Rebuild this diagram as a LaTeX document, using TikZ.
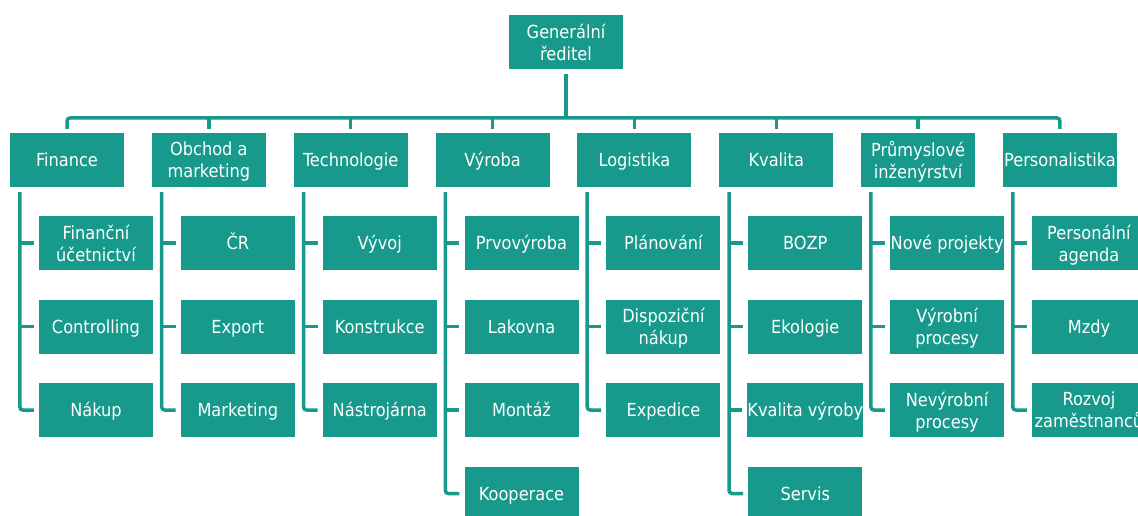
\documentclass[tikz,border=0pt]{standalone}
\usepackage{fontspec}
\setmainfont{DejaVu Sans Condensed}
\definecolor{tealbox}{HTML}{17998C}
\begin{document}
\begin{tikzpicture}[x=1pt,y=-1pt,
  box/.style={fill=tealbox, text=white, minimum width=114pt, minimum height=54pt,
    inner sep=0pt, align=center, text depth=0pt, font=\fontsize{18}{21.7}\selectfont},
  one/.style={box, text height=13.1pt},
  conn/.style={draw=tealbox, line width=3.5pt},
  elbow/.style={conn, rounded corners=3pt}]
\useasboundingbox[fill=white] (0,0) rectangle (1138,516);
\coordinate (bus) at (0,118);
% top
\node[box] (ceo) at (566,42) {Generální\\ředitel};
% departments
\node[one] (d1) at (67,160) {Finance};
\node[box] (d2) at (208.85,160) {Obchod a\\marketing};
\node[one] (d3) at (350.7,160) {Technologie};
\node[one] (d4) at (492.55,160) {Výroba};
\node[one] (d5) at (634.4,160) {Logistika};
\node[one] (d6) at (776.25,160) {Kvalita};
\node[box] (d7) at (918.1,160) {Průmyslové\\inženýrství};
\node[one] (d8) at (1059.95,160) {Personalistika};
% children
\node[box] (c11) at (96,243) {Finanční\\účetnictví};
\node[one] (c12) at (96,326.5) {Controlling};
\node[one] (c13) at (96,410) {Nákup};
\node[one] (c21) at (237.85,243) {ČR};
\node[one] (c22) at (237.85,326.5) {Export};
\node[one] (c23) at (237.85,410) {Marketing};
\node[one] (c31) at (379.7,243) {Vývoj};
\node[one] (c32) at (379.7,326.5) {Konstrukce};
\node[one] (c33) at (379.7,410) {Nástrojárna};
\node[one] (c41) at (521.55,243) {Prvovýroba};
\node[one] (c42) at (521.55,326.5) {Lakovna};
\node[one] (c43) at (521.55,410) {Montáž};
\node[one] (c44) at (521.55,493.5) {Kooperace};
\node[one] (c51) at (663.4,243) {Plánování};
\node[box] (c52) at (663.4,326.5) {Dispoziční\\nákup};
\node[one] (c53) at (663.4,410) {Expedice};
\node[one] (c61) at (805.25,243) {BOZP};
\node[one] (c62) at (805.25,326.5) {Ekologie};
\node[one] (c63) at (805.25,410) {Kvalita výroby};
\node[one] (c64) at (805.25,493.5) {Servis};
\node[one] (c71) at (947.1,243) {Nové projekty};
\node[box] (c72) at (947.1,326.5) {Výrobní\\procesy};
\node[box] (c73) at (947.1,410) {Nevýrobní\\procesy};
\node[box] (c81) at (1088.95,243) {Personální\\agenda};
\node[one] (c82) at (1088.95,326.5) {Mzdy};
\node[box] (c83) at (1088.95,410) {Rozvoj\\zaměstnanců};
% top connectors
\draw[conn] ([yshift=-5pt]ceo.south) -- (ceo.south |- bus);
\draw[elbow] ([yshift=4pt]d1.north) -- (d1.north |- bus) -- (d8.north |- bus) -- ([yshift=4pt]d8.north);
\foreach \d in {d2,d3,d4,d5,d6,d7}
  \draw[conn] (\d.north |- bus) -- ([yshift=4pt]\d.north);
% child connectors
\foreach \d/\last/\others in {d1/c13/{c11,c12}, d2/c23/{c21,c22}, d3/c33/{c31,c32},
    d4/c44/{c41,c42,c43}, d5/c53/{c51,c52}, d6/c64/{c61,c62,c63},
    d7/c73/{c71,c72}, d8/c83/{c81,c82}}{
  \coordinate (v) at ([xshift=10pt,yshift=-5pt]\d.south west);
  \draw[elbow] (v) |- ([xshift=-5pt]\last.west);
  \foreach \c in \others
    \draw[conn] (v |- \c.west) -- ([xshift=-5pt]\c.west);
}
\end{tikzpicture}
\end{document}
